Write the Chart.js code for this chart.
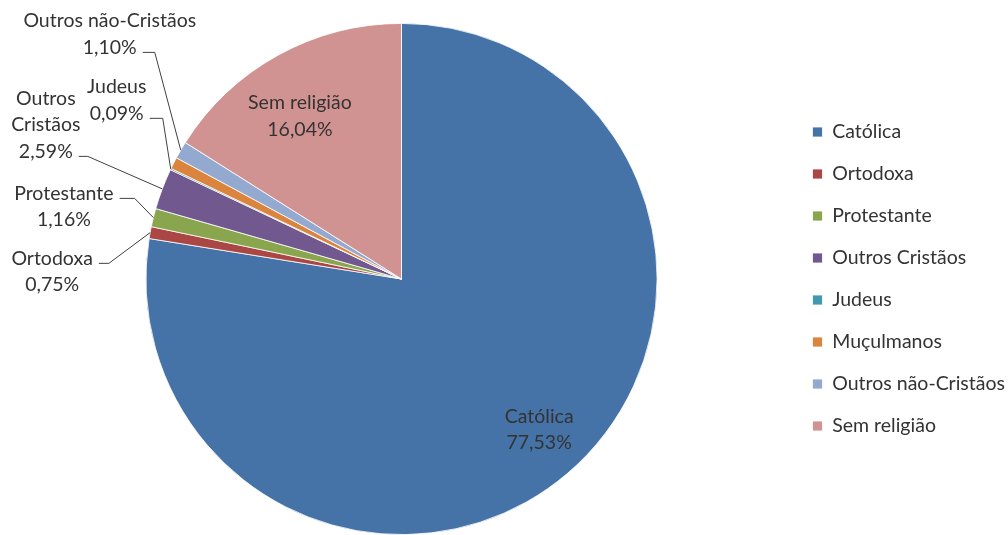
<!DOCTYPE html>
<html>
<head>
<meta charset="utf-8">
<script src="https://cdn.jsdelivr.net/npm/chart.js@4.4.1/dist/chart.umd.min.js"></script>
<style>
html,body{margin:0;padding:0;background:#fff;}
#outer{width:1008px;height:535px;overflow:hidden;position:relative;}
#wrap{width:1015px;height:535px;position:relative;}
</style>
</head>
<body>
<div id="outer"><div id="wrap"><canvas id="c"></canvas></div></div>
<script>
const categories = ['Católica','Ortodoxa','Protestante','Outros Cristãos','Judeus','Muçulmanos','Outros não-Cristãos','Sem religião'];
const shares = [77.53, 0.75, 1.16, 2.59, 0.09, 0.74, 1.10, 16.04];
const colors = ['#4572A7','#AA4643','#89A54E','#71588F','#4198AF','#DB843D','#93A9CF','#D19392'];
const labelNames = [['Católica'],['Ortodoxa'],['Protestante'],['Outros','Cristãos'],['Judeus'],null,['Outros não-Cristãos'],['Sem religião']];

// label placement (styling/layout only)
const labelLayout = [
  {mode:'inside', f:0.8, dx:5, dy:-5},
  {mode:'outside', dx:-98, dy:39, attach:0, h:10},
  {mode:'outside', dx:-89.5, dy:-11, attach:0, h:15},
  {mode:'outside', dx:-116.5, dy:-64, attach:2, h:9},
  {mode:'outside', dx:-54, dy:-69, attach:1, h:13},
  null,
  {mode:'outside', dx:-71, dy:-116, attach:1, h:12},
  {mode:'inside', f:0.75, dx:-9, dy:5}
];

const FONT_SIZE = 19.5;
const FONT = FONT_SIZE + 'px Lato';
const LINE_H = 26.5;
const TEXT_COLOR = '#333333';

function fmt(v){ return v.toFixed(2).replace('.', ',') + '%'; }

const labelPlugin = {
  id: 'pieLabels',
  afterDatasetsDraw(chart){
    const ctx = chart.ctx;
    const meta = chart.getDatasetMeta(0);
    ctx.save();
    ctx.font = FONT;
    ctx.fillStyle = TEXT_COLOR;
    ctx.textAlign = 'center';
    ctx.textBaseline = 'middle';
    meta.data.forEach((arc, i) => {
      const lay = labelLayout[i];
      if (!lay || !labelNames[i]) return;
      const p = arc.getProps(['x','y','startAngle','endAngle','outerRadius'], true);
      const mid = (p.startAngle + p.endAngle) / 2;
      const lines = labelNames[i].concat([fmt(shares[i])]);
      let cx, cy, ex, ey;
      if (lay.mode === 'inside') {
        cx = p.x + Math.cos(mid) * p.outerRadius * lay.f + lay.dx;
        cy = p.y + Math.sin(mid) * p.outerRadius * lay.f + lay.dy;
      } else {
        ex = p.x + Math.cos(mid) * p.outerRadius;
        ey = p.y + Math.sin(mid) * p.outerRadius;
        cx = ex + lay.dx;
        cy = ey + lay.dy;
      }
      const top = cy - (lines.length - 1) * LINE_H / 2;
      lines.forEach((t, k) => ctx.fillText(t, cx, top + k * LINE_H));
      if (lay.mode === 'outside') {
        const w = ctx.measureText(lines[lay.attach]).width;
        const sx = cx + w / 2 + 6;
        const sy = top + lay.attach * LINE_H + 5;
        ctx.beginPath();
        ctx.strokeStyle = '#404040';
        ctx.lineWidth = 1;
        ctx.moveTo(sx, sy);
        ctx.lineTo(sx + lay.h, sy);
        ctx.lineTo(ex, ey);
        ctx.stroke();
      }
    });
    ctx.restore();
  }
};

new Chart(document.getElementById('c'), {
  type: 'pie',
  data: {
    labels: categories,
    datasets: [{
      data: shares,
      backgroundColor: colors,
      borderColor: '#ffffff',
      borderWidth: 0.8
    }]
  },
  options: {
    responsive: true,
    maintainAspectRatio: false,
    animation: false,
    layout: {padding: {top: 23, bottom: 0, left: 13, right: 0}},
    plugins: {
      tooltip: {enabled: false},
      legend: {
        position: 'right',
        labels: {
          boxWidth: 10,
          boxHeight: 10,
          padding: 22.5,
          color: TEXT_COLOR,
          font: {family: 'Lato', size: FONT_SIZE}
        }
      }
    }
  },
  plugins: [labelPlugin]
});
</script>
</body>
</html>
